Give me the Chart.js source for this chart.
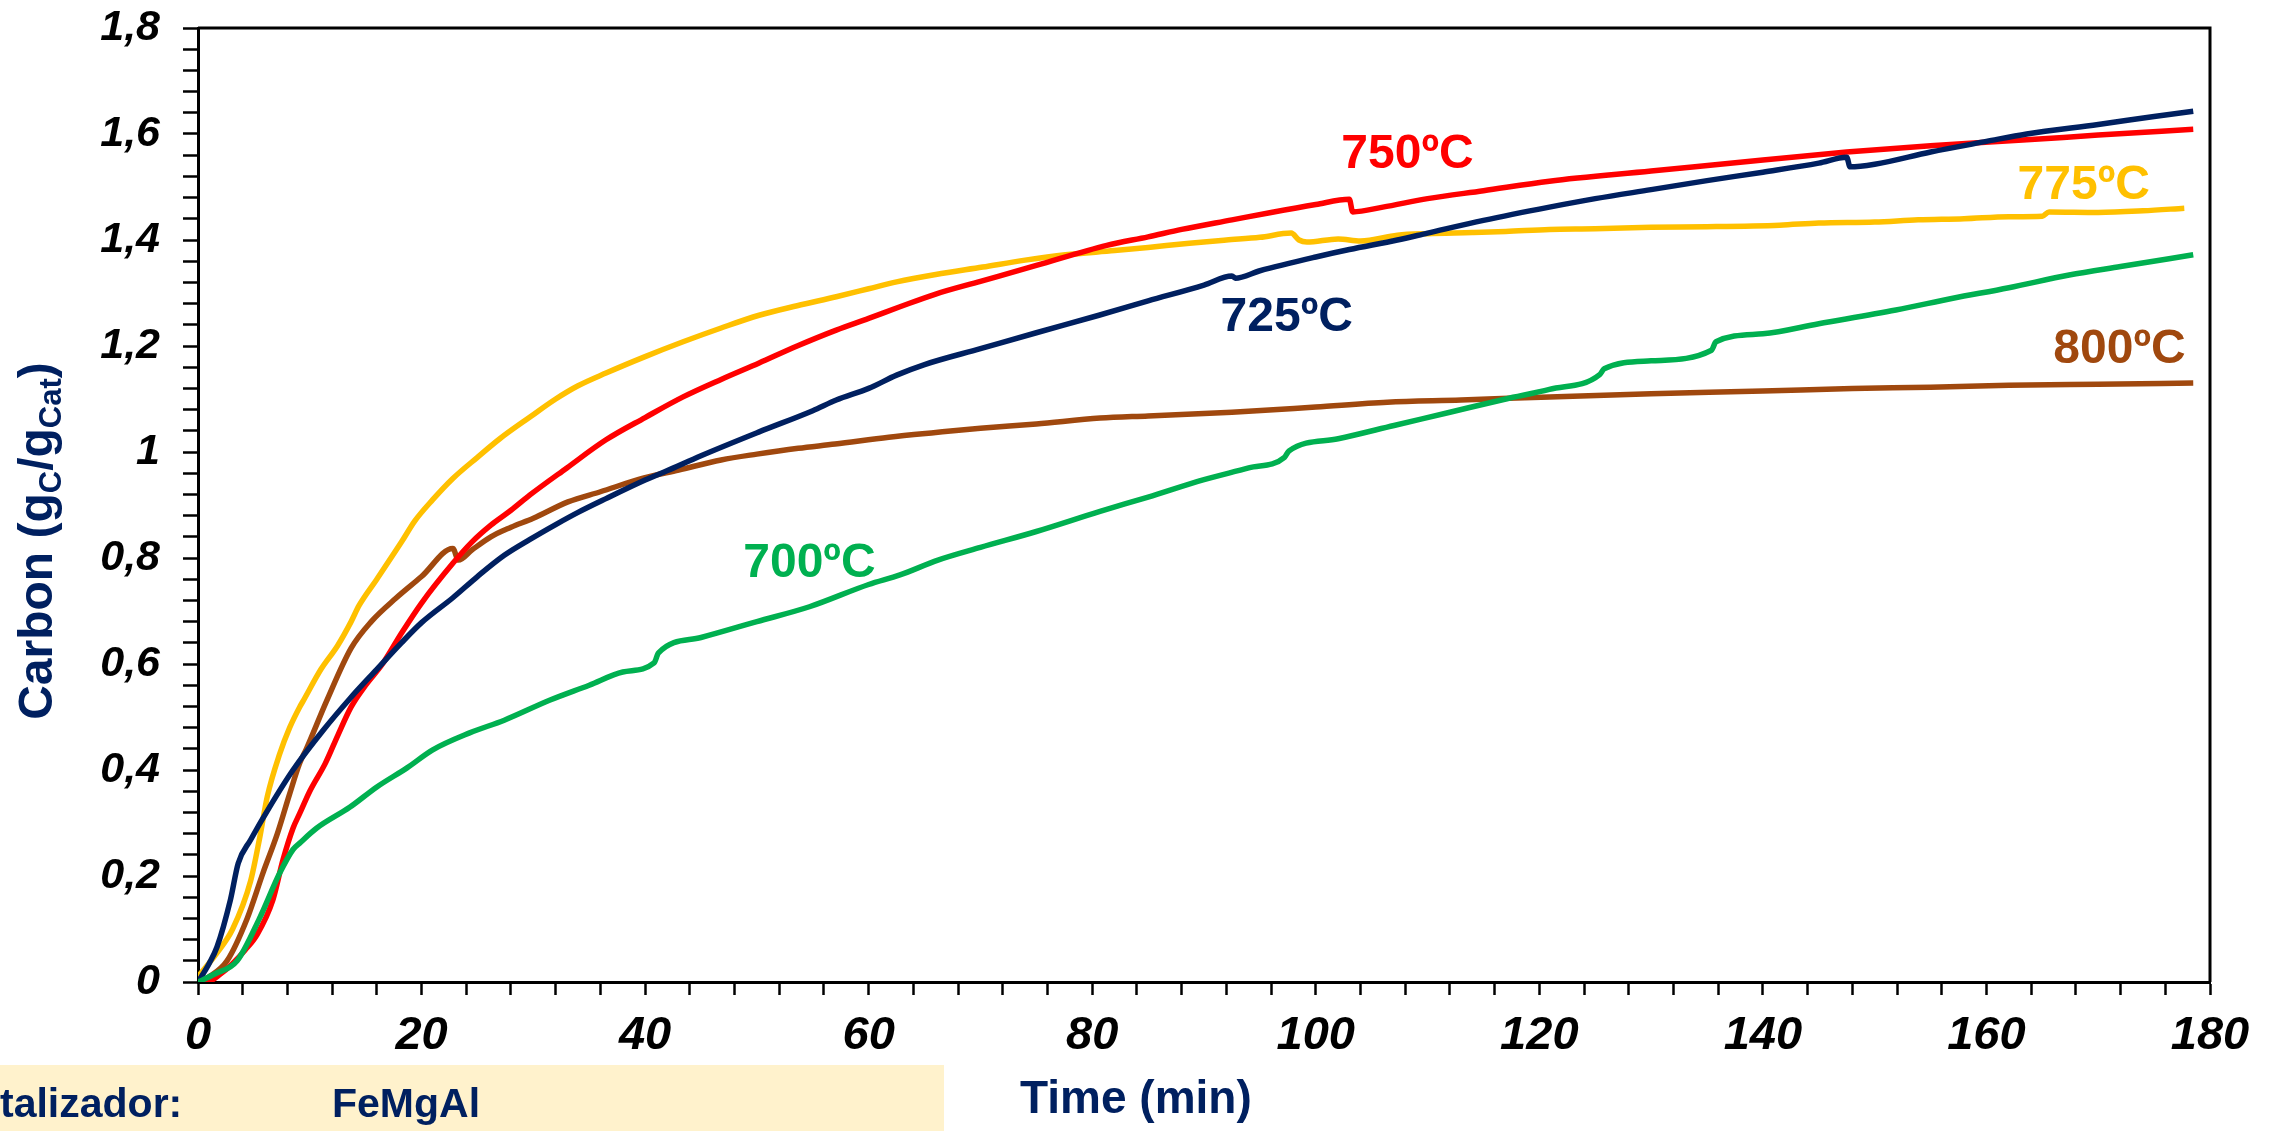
<!DOCTYPE html>
<html>
<head>
<meta charset="utf-8">
<title>Carbon vs time - FeMgAl</title>
<script src="https://cdn.jsdelivr.net/npm/chart.js@4.4.1/dist/chart.umd.min.js"></script>
<style>
  html, body { margin: 0; padding: 0; background: #fff; overflow: hidden; }
  #wrap { width: 2279px; height: 1131px; position: relative; }
</style>
</head>
<body>
<div id="wrap"><canvas id="chart" width="2279" height="1131"></canvas></div>
<script>
const FONT = '"Liberation Sans", Arial, Helvetica, sans-serif';
const NAVY = '#002060';

// time (min) and carbon (gC/gCat), one pair of arrays per run
const t700 = [0, 1.5, 3.5, 5.5, 7.3, 8.5, 9.1, 10.6, 13.6, 16, 18.7, 21, 24.3, 27.4, 31.5, 35, 38, 40.8, 41.2, 45, 50, 54.7, 60, 62.8, 66.2, 70, 75, 80.7, 85, 90, 94, 97.2, 97.6, 102, 107, 112, 117, 120.9, 125.4, 125.8, 130, 135.4, 135.8, 140, 145, 151.9, 157, 162, 167.4, 172, 178.5];
const c700 = [0, 0.015, 0.04, 0.12, 0.205, 0.25, 0.262, 0.29, 0.33, 0.368, 0.404, 0.438, 0.47, 0.494, 0.532, 0.56, 0.585, 0.602, 0.621, 0.65, 0.68, 0.708, 0.75, 0.768, 0.796, 0.82, 0.85, 0.888, 0.915, 0.948, 0.97, 0.99, 1.002, 1.025, 1.05, 1.075, 1.1, 1.118, 1.146, 1.157, 1.172, 1.192, 1.208, 1.223, 1.242, 1.268, 1.29, 1.31, 1.334, 1.35, 1.372];

const t725 = [0, 1, 1.7, 2.9, 3.6, 4.7, 6.4, 8.5, 11.2, 13.6, 16, 18.2, 20, 22.8, 25, 27.4, 29.7, 32, 34, 36.5, 40, 42, 45, 50.2, 55, 57.1, 60, 62.5, 65, 70, 75, 80.6, 85, 90, 92.5, 92.8, 95, 100, 103, 107.3, 110, 115, 120.9, 125, 130, 135, 140, 145, 147.5, 147.8, 150, 155, 160, 163.6, 170, 175, 178.5];
const c725 = [0, 0.035, 0.066, 0.155, 0.224, 0.268, 0.33, 0.4, 0.475, 0.535, 0.59, 0.64, 0.678, 0.725, 0.765, 0.805, 0.835, 0.863, 0.886, 0.912, 0.947, 0.965, 0.993, 1.038, 1.078, 1.098, 1.12, 1.145, 1.165, 1.195, 1.225, 1.258, 1.285, 1.315, 1.332, 1.328, 1.342, 1.368, 1.382, 1.4, 1.413, 1.437, 1.462, 1.478, 1.495, 1.512, 1.528, 1.545, 1.556, 1.538, 1.543, 1.566, 1.586, 1.6, 1.618, 1.633, 1.643];

const t750 = [0, 0.8, 2, 3.1, 4.2, 5.3, 6.7, 7.6, 8.5, 9.1, 10, 11.4, 12.5, 13.7, 15, 16.5, 18.2, 20, 22.8, 24.5, 26.2, 28, 29.7, 33, 36.5, 40, 43.4, 46.8, 50.2, 53.6, 57.1, 60, 62.8, 66, 70, 75, 81.3, 85, 88, 92.5, 96, 100, 103, 103.3, 106, 110, 115, 120.9, 130, 140, 147.5, 155, 163.6, 170, 178.5];
const c750 = [0, 0, 0.015, 0.035, 0.06, 0.09, 0.155, 0.23, 0.29, 0.318, 0.36, 0.413, 0.465, 0.519, 0.56, 0.6, 0.658, 0.715, 0.79, 0.83, 0.862, 0.89, 0.919, 0.97, 1.023, 1.065, 1.104, 1.137, 1.168, 1.2, 1.23, 1.252, 1.274, 1.298, 1.322, 1.352, 1.39, 1.406, 1.42, 1.438, 1.452, 1.467, 1.477, 1.453, 1.462, 1.478, 1.493, 1.511, 1.53, 1.551, 1.566, 1.578, 1.589, 1.598, 1.609];

const t775 = [0, 1.7, 3.1, 4.7, 5.5, 6.2, 7.3, 8.2, 9.1, 9.4, 11, 12.5, 13.7, 14.4, 16, 18.2, 19.4, 21, 22.8, 25, 27, 29.7, 32, 34, 36.5, 40, 43.4, 46.8, 50.2, 53.6, 57.1, 60, 62.5, 66, 70.2, 74, 77.6, 82, 85, 88.7, 92, 95, 97.8, 98.5, 99.2, 102, 104, 107.3, 110, 114, 117, 120.9, 125, 130, 135, 141.5, 145, 150, 153.9, 158, 162, 165, 165.6, 170, 174, 177.7];
const c775 = [0.01, 0.055, 0.1, 0.19, 0.27, 0.35, 0.43, 0.48, 0.519, 0.53, 0.59, 0.635, 0.68, 0.71, 0.76, 0.83, 0.87, 0.91, 0.95, 0.99, 1.025, 1.066, 1.1, 1.125, 1.149, 1.18, 1.208, 1.234, 1.258, 1.276, 1.293, 1.308, 1.321, 1.335, 1.349, 1.362, 1.372, 1.38, 1.386, 1.394, 1.4, 1.405, 1.413, 1.4, 1.396, 1.402, 1.398, 1.409, 1.412, 1.414, 1.416, 1.42, 1.421, 1.424, 1.425, 1.428, 1.432, 1.434, 1.438, 1.44, 1.444, 1.445, 1.453, 1.452, 1.455, 1.46];

const t800 = [0, 1, 2.6, 4.4, 5.8, 7.1, 8.2, 9.1, 9.7, 11.5, 13.7, 15.5, 17.7, 20, 22.8, 23.3, 24.5, 26.2, 28, 30, 33.1, 36, 39.9, 43, 46.8, 50, 53.7, 57, 61.8, 66, 70, 75, 80.7, 85, 92.5, 100, 106.4, 113, 120.9, 130, 140, 148, 155, 162, 170, 178.5];
const c800 = [0, 0.01, 0.04, 0.12, 0.205, 0.28, 0.355, 0.413, 0.44, 0.53, 0.63, 0.68, 0.724, 0.765, 0.818, 0.796, 0.815, 0.84, 0.858, 0.875, 0.906, 0.925, 0.951, 0.966, 0.985, 0.996, 1.007, 1.015, 1.028, 1.037, 1.045, 1.053, 1.064, 1.068, 1.075, 1.085, 1.094, 1.098, 1.104, 1.11, 1.115, 1.12, 1.122, 1.126, 1.128, 1.13];

const seriesNames = ['700ºC', '725ºC', '750ºC', '775ºC', '800ºC'];
const seriesColors = ['#00B050', NAVY, '#FF0000', '#FFC000', '#A0480E'];
// where each run's name sits, in data units (time, carbon)
const labelTime = [54.7, 97.4, 108.2, 168.7, 171.9];
const labelCarbon = [0.789, 1.253, 1.56, 1.502, 1.192];

const xTicks = [0, 20, 40, 60, 80, 100, 120, 140, 160, 180];
const yTicks = [0, 0.2, 0.4, 0.6, 0.8, 1, 1.2, 1.4, 1.6, 1.8];

function pairs(ts, cs) {
  return ts.map((t, i) => ({ x: t, y: cs[i] }));
}

function fmtY(v) {
  return String(Number(v.toFixed(1))).replace('.', ',');
}

function isMajor(v, list) {
  return list.some(m => Math.abs(m - v) < 1e-6);
}

const runs = [[t700, c700], [t725, c725], [t750, c750], [t775, c775], [t800, c800]];

const decorations = {
  id: 'decorations',
  afterDraw(chart) {
    const { ctx, chartArea: a, scales } = chart;
    ctx.save();

    // top and right edges of the plot frame
    ctx.strokeStyle = '#000';
    ctx.lineWidth = 3;
    ctx.beginPath();
    ctx.moveTo(a.left, a.top);
    ctx.lineTo(a.right, a.top);
    ctx.lineTo(a.right, a.bottom);
    ctx.stroke();

    // run names
    ctx.font = `bold 48px ${FONT}`;
    ctx.textAlign = 'center';
    ctx.textBaseline = 'middle';
    seriesNames.forEach((name, i) => {
      ctx.fillStyle = seriesColors[i];
      ctx.fillText(name, scales.x.getPixelForValue(labelTime[i]), scales.y.getPixelForValue(labelCarbon[i]));
    });

    // y title with subscripts, rotated
    ctx.fillStyle = NAVY;
    ctx.translate(52, 541);
    ctx.rotate(-Math.PI / 2);
    ctx.textAlign = 'left';
    ctx.textBaseline = 'alphabetic';
    const big = `bold 48px ${FONT}`, small = `bold 31px ${FONT}`;
    const parts = [['Carbon (g', big, 0], ['C', small, 9], ['/g', big, 0], ['Cat', small, 9], [')', big, 0]];
    let total = 0;
    parts.forEach(p => { ctx.font = p[1]; total += ctx.measureText(p[0]).width; });
    let x = -total / 2;
    parts.forEach(p => {
      ctx.font = p[1];
      ctx.fillText(p[0], x, p[2]);
      x += ctx.measureText(p[0]).width;
    });
    ctx.setTransform(1, 0, 0, 1, 0, 0);

    // x title
    ctx.font = `bold 46px ${FONT}`;
    ctx.fillStyle = NAVY;
    ctx.fillText('Time (min)', 1020, 1113);

    // catalyst box at the bottom left
    ctx.fillStyle = '#FFF2CC';
    ctx.fillRect(0, 1065, 944, 66);
    ctx.fillStyle = NAVY;
    ctx.font = `bold 41px ${FONT}`;
    ctx.fillText('talizador:', 0, 1117);
    ctx.fillText('FeMgAl', 332, 1117);

    ctx.restore();
  }
};

new Chart(document.getElementById('chart'), {
  type: 'line',
  data: {
    datasets: runs.map((r, i) => ({
      label: seriesNames[i],
      data: pairs(r[0], r[1]),
      borderColor: seriesColors[i],
      backgroundColor: seriesColors[i],
      borderWidth: 5.5,
      pointRadius: 0,
      cubicInterpolationMode: 'monotone',
      fill: false
    }))
  },
  options: {
    responsive: false,
    devicePixelRatio: 1,
    animation: false,
    layout: { padding: { top: 28, right: 69, left: 0, bottom: 0 } },
    plugins: { legend: { display: false }, tooltip: { enabled: false } },
    scales: {
      x: {
        type: 'linear',
        min: 0,
        max: 180,
        afterFit: s => { s.height = 149; s.paddingLeft = 0; s.paddingRight = 0; },
        border: { display: true, color: '#000', width: 3 },
        grid: { drawOnChartArea: false, drawTicks: true, tickLength: 13, tickColor: '#000', tickWidth: 2.5 },
        ticks: {
          stepSize: 4,
          autoSkip: false,
          maxRotation: 0,
          padding: 13,
          color: '#000',
          font: { family: FONT, size: 47, weight: 'bold', style: 'italic' },
          callback: v => isMajor(v, xTicks) ? String(v) : ''
        }
      },
      y: {
        min: 0,
        max: 1.8,
        afterFit: s => { s.width = 198; s.paddingTop = 0; s.paddingBottom = 0; },
        border: { display: true, color: '#000', width: 3 },
        grid: { drawOnChartArea: false, drawTicks: true, tickLength: 15, tickColor: '#000', tickWidth: 2.5 },
        ticks: {
          stepSize: 0.04,
          autoSkip: false,
          padding: 23,
          color: '#000',
          font: { family: FONT, size: 43, weight: 'bold', style: 'italic' },
          callback: v => isMajor(v, yTicks) ? fmtY(v) : ''
        }
      }
    }
  },
  plugins: [decorations]
});
</script>
</body>
</html>
